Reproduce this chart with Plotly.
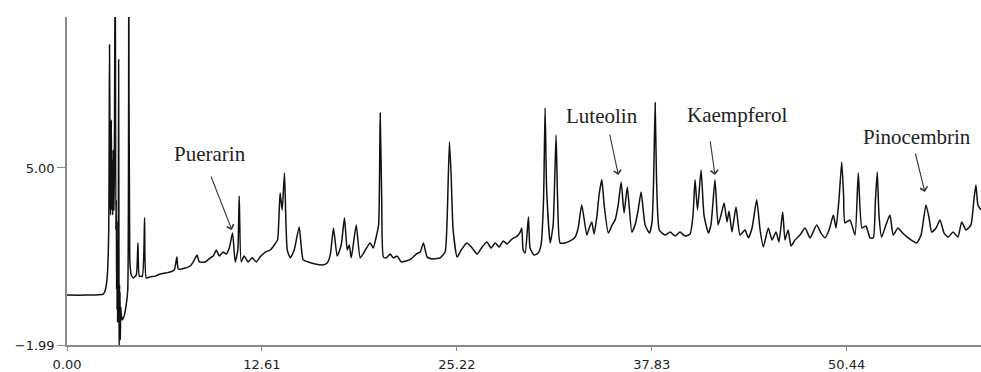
import plotly.graph_objects as go

# Retention time (min) and detector signal
time = [0.00, 1.18, 2.35, 2.48, 2.61, 2.70, 2.75, 2.80, 2.82, 2.87, 2.90, 2.93, 2.96, 2.99, 3.03, 3.06,
        3.12, 3.16, 3.19, 3.21, 3.22, 3.24, 3.25, 3.27, 3.29, 3.31, 3.34, 3.36, 3.37, 3.38, 3.40, 3.41,
        3.43, 3.45, 3.48, 3.51, 3.58, 3.71, 3.83, 3.93,
        4.00, 4.06, 4.16, 4.29, 4.48, 4.59, 4.68, 4.87, 5.02, 5.13, 5.39, 5.71, 6.03, 6.36, 6.68, 6.94,
        7.11, 7.20, 7.65, 7.97, 8.17, 8.41, 8.56, 8.94, 9.27, 9.46, 9.66, 9.85, 10.11, 10.30, 10.50,
        10.71, 10.88, 11.05, 11.14, 11.27, 11.46, 11.72, 11.98, 12.24, 12.50, 12.83, 13.15, 13.41,
        13.62, 13.73, 13.79, 13.92, 14.07, 14.15, 14.25, 14.44, 14.70, 15.02, 15.28, 15.61, 16.06,
        16.51, 16.83, 17.03, 17.24, 17.48, 17.74, 17.95, 18.13, 18.26, 18.39, 18.71, 18.97, 19.30,
        19.61, 19.81, 20.00, 20.16, 20.26, 20.36, 20.47, 20.65, 20.91, 21.11, 21.36, 21.62, 21.94,
        22.27, 22.59, 22.85, 23.06, 23.30, 23.69, 24.14, 24.46, 24.59, 24.74, 24.85, 24.98, 25.24,
        25.50, 25.87, 26.21, 26.53, 26.86, 27.16, 27.44, 27.70, 27.96, 28.22, 28.47, 28.80, 29.12,
        29.32, 29.42, 29.51, 29.64, 29.85, 29.96, 30.22, 30.48, 30.67, 30.83, 30.93, 31.03, 31.26,
        31.45, 31.64, 31.74, 31.90, 32.22, 32.55, 32.87, 33.07, 33.30, 33.63, 33.78, 33.95, 34.10,
        34.29, 34.42, 34.60, 34.75, 35.02, 35.27, 35.46, 35.66, 35.85, 36.04, 36.25, 36.54, 36.75,
        36.95, 37.14, 37.40, 37.68, 37.85, 37.95, 38.05, 38.14, 38.32, 38.69, 39.02, 39.34, 39.66,
        39.98, 40.31, 40.50, 40.63, 40.79, 41.02, 41.21, 41.49, 41.66, 41.92, 42.12, 42.31, 42.51,
        42.70, 42.83, 43.02, 43.28, 43.54, 43.86, 44.08, 44.32, 44.62, 44.84, 45.05, 45.37, 45.61,
        45.87, 46.06, 46.30, 46.45, 46.65, 46.84, 47.10, 47.42, 47.75, 48.07, 48.50, 48.78, 49.04,
        49.30, 49.58, 49.75, 49.94, 50.12, 50.24, 50.33, 50.65, 50.98, 51.19, 51.43, 51.69, 51.95,
        52.16, 52.30, 52.42, 52.53, 52.70, 52.98, 53.24, 53.45, 53.76, 54.00, 54.28, 54.60, 54.97,
        55.25, 55.57, 55.77, 55.94, 56.22, 56.48, 56.74, 57.01, 57.32, 57.64, 57.88, 58.16, 58.48,
        58.67, 58.80, 58.93, 59.13]
signal = [-0.02, -0.02, 0.02, 0.18, 0.77, 2.55, 9.86, 3.74, 3.14, 6.90, 3.34, 5.32, 3.14, 5.71, 3.34, 4.72,
          14.0, 2.55, 3.74, 0.20, 2.90, -0.60, 2.16, -1.10, 1.20, -0.90, 9.27, 1.76, -1.40, -2.30, 0.40,
          -1.60, 0.10, -1.79, -0.50, -0.81, -1.00, -0.81, -0.41, 0.18,
          14.0, 1.37, 0.77, 0.66, 0.77, 2.04, 0.73, 0.73, 3.03, 0.66, 0.70, 0.73, 0.81, 0.85, 0.89, 0.97,
          1.48, 1.01, 1.05, 1.13, 1.29, 1.56, 1.29, 1.29, 1.45, 1.52, 1.76, 1.52, 1.68, 1.60, 1.84,
          2.43, 1.29, 1.76, 3.89, 1.29, 1.52, 1.29, 1.45, 1.29, 1.49, 1.68, 1.76, 1.96,
          2.16, 3.34, 4.01, 3.34, 4.80, 3.14, 1.76, 1.45, 1.76, 2.67, 1.37, 1.29, 1.21,
          1.17, 1.25, 1.56, 2.63, 1.52, 1.96, 3.03, 1.76, 1.96, 1.45, 2.75, 1.45, 1.76,
          2.04, 1.84, 2.27, 2.75, 7.17, 3.74, 1.48, 1.45, 1.60, 1.45, 1.52, 1.29, 1.33,
          1.41, 1.60, 1.68, 2.04, 1.48, 1.41, 1.45, 1.68, 2.95, 6.03, 4.72, 2.55, 1.48,
          1.76, 2.04, 1.84, 1.60, 1.88, 2.08, 1.84, 2.04, 1.88, 2.12, 2.00, 2.20, 2.31,
          2.47, 2.63, 1.76, 1.64, 3.06, 1.84, 1.56, 1.64, 1.96, 3.74, 7.37, 4.13, 2.04,
          2.75, 6.30, 3.74, 2.04, 2.04, 2.12, 2.27, 2.63, 3.54, 2.35, 2.63, 2.87, 2.39,
          3.14, 3.93, 4.53, 3.54, 2.43, 2.75, 2.95, 3.54, 4.45, 3.22, 4.25, 2.47, 2.75,
          3.34, 4.05, 2.75, 2.43, 2.87, 4.53, 7.57, 4.53, 2.55, 2.35, 2.47, 2.31, 2.47,
          2.31, 2.39, 3.14, 4.53, 3.34, 4.92, 3.14, 2.43, 2.75, 4.53, 2.75, 3.14, 3.62,
          2.87, 3.30, 2.47, 3.46, 2.35, 2.55, 2.24, 2.63, 3.74, 2.55, 1.88, 2.63, 2.16,
          2.47, 2.08, 3.26, 2.16, 2.55, 1.92, 2.16, 2.35, 2.63, 2.24, 2.75, 2.43, 2.24,
          2.55, 3.14, 2.63, 3.74, 5.24, 3.93, 2.83, 2.95, 2.35, 4.80, 2.63, 2.71, 2.24,
          2.24, 3.74, 4.84, 3.14, 2.27, 2.75, 3.14, 2.35, 2.63, 2.47, 2.31, 2.16, 2.04,
          2.35, 3.54, 3.03, 2.47, 2.63, 2.95, 2.43, 2.27, 2.47, 2.27, 2.87, 2.55, 2.75,
          3.74, 4.33, 3.54, 3.34]

x_tick_vals = [0.00, 12.61, 25.22, 37.83, 50.44]
x_tick_text = ["0.00", "12.61", "25.22", "37.83", "50.44"]
y_tick_vals = [-1.99, 5.00]
y_tick_text = ["\u22121.99", "5.00"]

# Compound labels: name, arrow head (time, signal), arrow tail, label centre
labels = ["Puerarin", "Luteolin", "Kaempferol", "Pinocembrin"]
head_t = [10.67, 35.67, 41.92, 55.50]
head_s = [2.55, 4.72, 4.72, 4.05]
tail_t = [9.28, 35.09, 41.60, 54.86]
tail_s = [4.72, 6.38, 6.11, 5.63]
text_t = [9.28, 34.62, 43.35, 54.99]
text_s = [5.55, 7.05, 7.09, 6.22]

fig = go.Figure()
fig.add_trace(go.Scatter(x=time, y=signal, mode="lines",
                         line=dict(color="#111111", width=1.5, shape="spline", smoothing=0.5),
                         showlegend=False, hoverinfo="skip"))

annotations = []
for i, name in enumerate(labels):
    annotations.append(dict(x=head_t[i], y=head_s[i], ax=tail_t[i], ay=tail_s[i],
                            xref="x", yref="y", axref="x", ayref="y", text="",
                            showarrow=True, arrowhead=4, arrowsize=1.3, arrowwidth=1.1,
                            arrowcolor="#333333"))
    annotations.append(dict(x=text_t[i], y=text_s[i], xref="x", yref="y", text=name,
                            showarrow=False, xanchor="center", yanchor="middle",
                            font=dict(family="Liberation Serif", size=21, color="#222222")))

fig.update_layout(
    width=981, height=372,
    margin=dict(l=67, r=0, t=17, b=27, autoexpand=False),
    paper_bgcolor="white", plot_bgcolor="white",
    annotations=annotations,
    xaxis=dict(range=[0, 59.13], tickvals=x_tick_vals, ticktext=x_tick_text,
               showgrid=False, zeroline=False, showline=True, linecolor="#8a8a8a",
               linewidth=1.5, ticks="outside", ticklen=4, tickcolor="#8a8a8a",
               tickfont=dict(family="DejaVu Sans", size=13, color="#222222"),
               ticklabelstandoff=3, automargin=False),
    yaxis=dict(range=[-1.99, 10.96], tickvals=y_tick_vals, ticktext=y_tick_text,
               showgrid=False, zeroline=False, showline=True, linecolor="#8a8a8a",
               linewidth=1.5, ticks="outside", ticklen=8, tickcolor="#8a8a8a",
               tickfont=dict(family="DejaVu Sans", size=13, color="#222222"),
               automargin=False),
)

fig.write_html("out.html", config={"displayModeBar": False},
               post_script="document.body.style.margin='0';document.body.style.overflow='hidden';")
